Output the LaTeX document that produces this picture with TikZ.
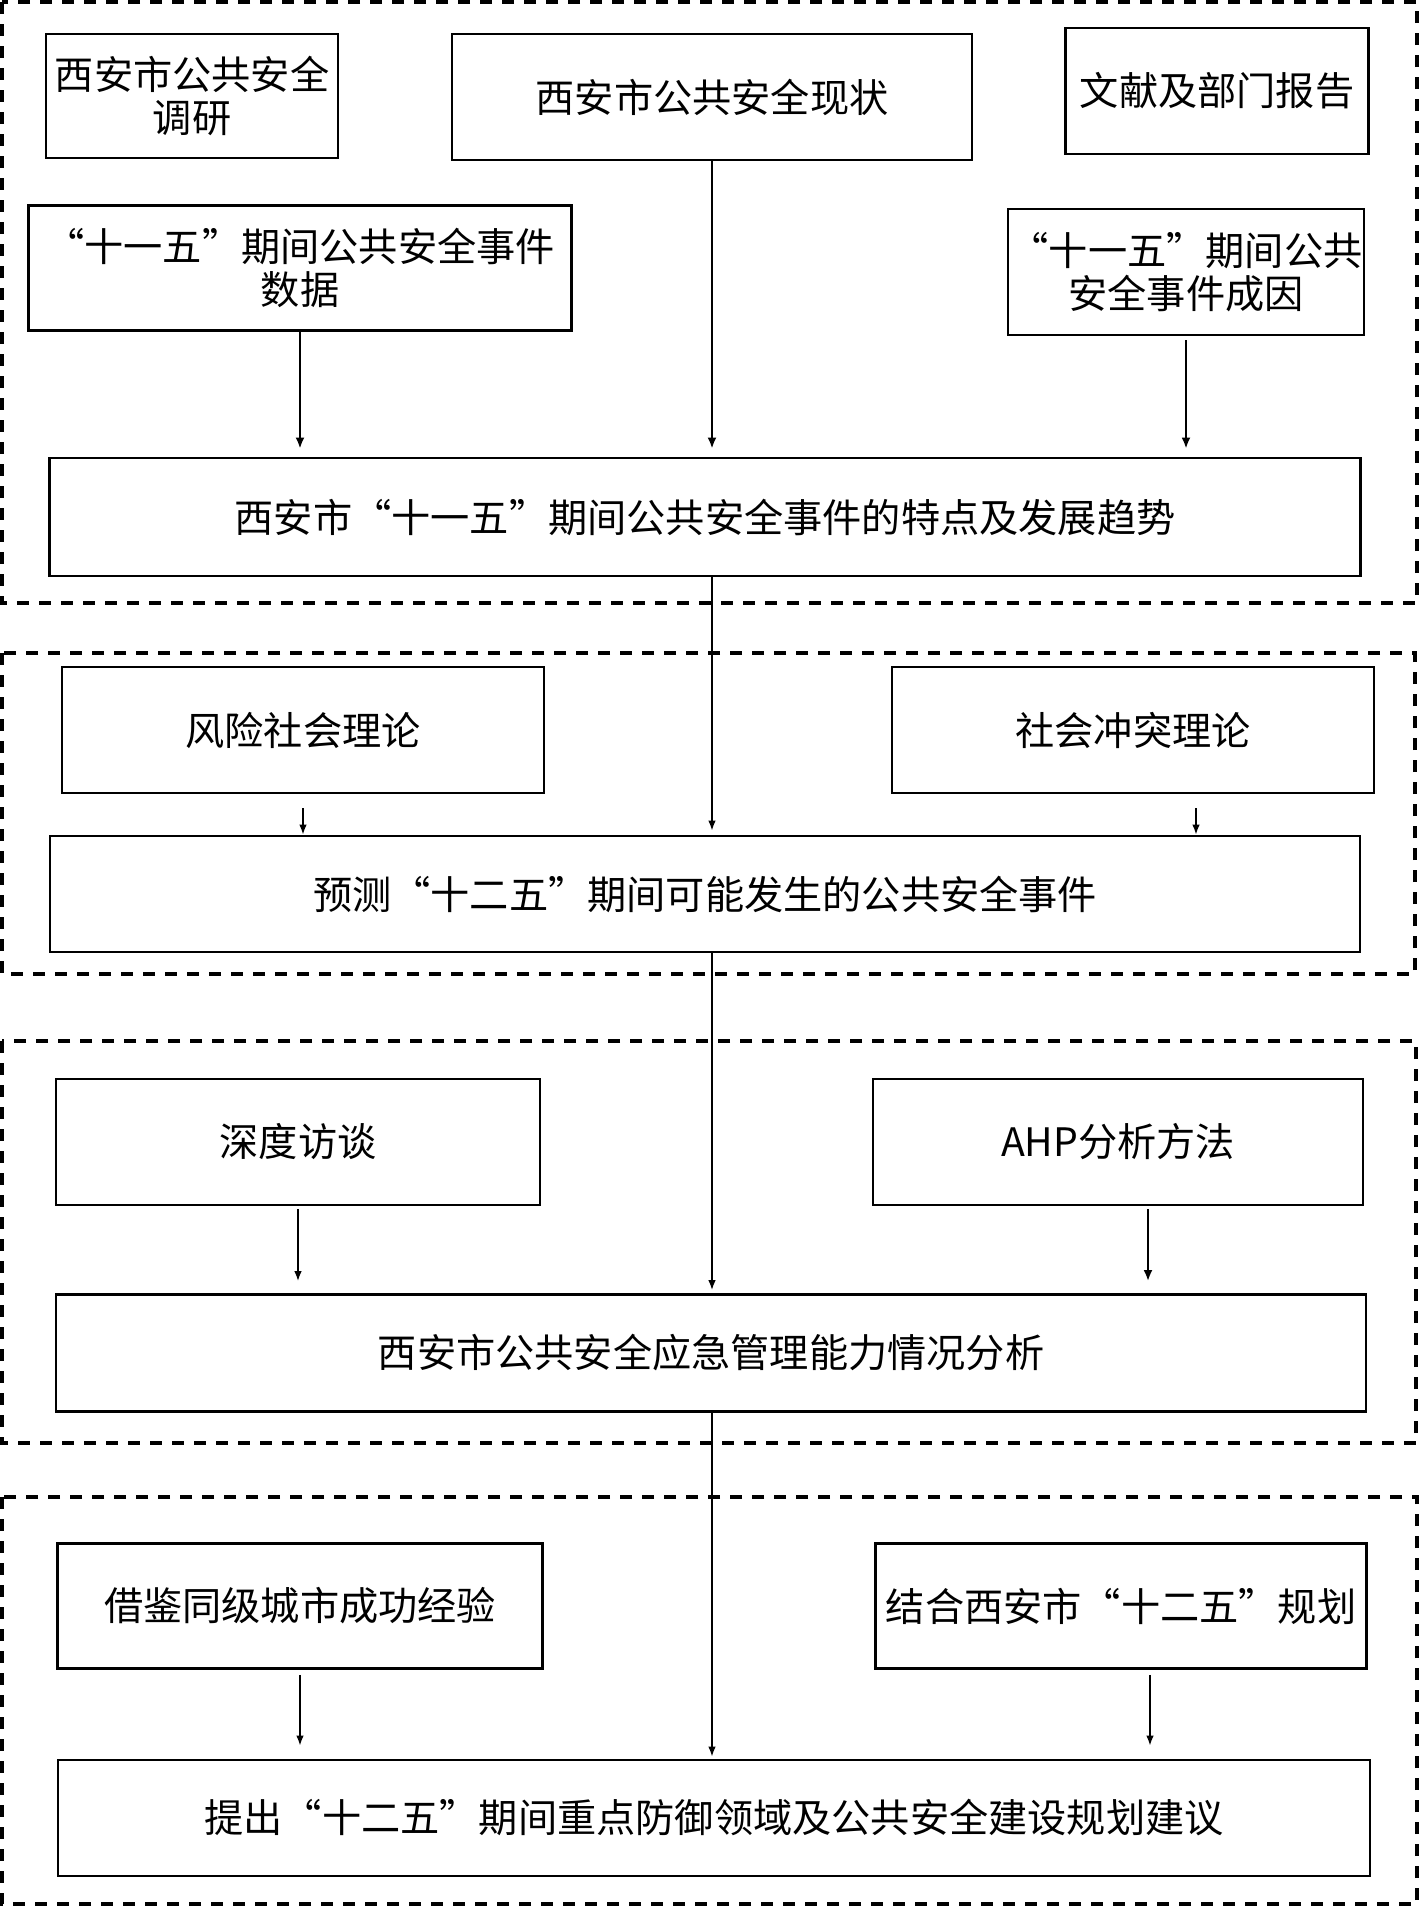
\documentclass[tikz,border=0pt]{standalone}
\usepackage{fontspec}
\usepackage{tikz}
\usetikzlibrary{arrows.meta}
\newfontfamily\cjk{Noto Sans CJK SC}
\tikzset{
  block/.style={rectangle,draw=black,line width=1.4pt,inner sep=0pt,align=center,
    font=\cjk\fontsize{19.6}{21.5}\selectfont},
  stage/.style={dash pattern=on 6pt off 5pt,line width=1.7pt},
  arrow/.style={-{Latex[length=5.5pt,width=4.5pt]},line width=1.1pt},
  thinarrow/.style={-{Latex[length=5pt,width=3.8pt]},line width=0.8pt}
}

\begin{document}
\begin{tikzpicture}[x=0.5pt,y=-0.5pt]
\useasboundingbox (0,0) rectangle (1420,1906);
% stage frames
\draw[stage] (2,2) rectangle (1417,603);
\draw[stage] (2,653) rectangle (1415,974);
\draw[stage] (2,1041) rectangle (1416,1443);
\draw[stage] (2,1497) rectangle (1417,1904);
% stage 1
\node[block,minimum width=146pt,minimum height=62pt] (survey) at (192,96) {西安市公共安全\\调研};
\node[block,minimum width=260pt,minimum height=63pt] (status) at (712,97) {西安市公共安全现状};
\node[block,minimum width=151.5pt,minimum height=63pt] (report) at (1217,91) {文献及部门报告};
\node[block,minimum width=271.5pt,minimum height=62.5pt] (data) at (300,268) {“十一五”期间公共安全事件\\数据};
\node[block,minimum width=178pt,minimum height=63pt] (cause) at (1186,272) {“十一五”期间公共\\安全事件成因};
\node[block,minimum width=655.5pt,minimum height=59pt] (trend) at (705,517) {西安市“十一五”期间公共安全事件的特点及发展趋势};
\draw[arrow,shorten >=4pt] (data.south) -- (data.south |- trend.north);
\draw[arrow,shorten >=4pt] (status.south) -- (status.south |- trend.north);
\draw[arrow,shorten <=2pt,shorten >=4pt] (cause.south) -- (cause.south |- trend.north);
% stage 2
\node[block,minimum width=241pt,minimum height=63pt] (risk) at (303,730) {风险社会理论};
\node[block,minimum width=241pt,minimum height=63pt] (conflict) at (1133,730) {社会冲突理论};
\node[block,minimum width=655pt,minimum height=58pt] (forecast) at (705,894) {预测“十二五”期间可能发生的公共安全事件};
\draw[thinarrow,shorten >=2pt] (trend.south -| status.south) -- (forecast.north -| status.south);
\draw[thinarrow,shorten <=7pt] (risk.south) -- (risk.south |- forecast.north);
\draw[thinarrow,shorten <=7pt] ([xshift=31.5pt]conflict.south) -- ([xshift=31.5pt]conflict.south |- forecast.north);
% stage 3
\node[block,minimum width=242pt,minimum height=63pt] (interview) at (298,1142) {深度访谈};
\node[block,minimum width=245pt,minimum height=63pt] (ahp) at (1118,1142) {AHP分析方法};
\node[block,minimum width=655pt,minimum height=58.5pt] (capacity) at (711,1353) {西安市公共安全应急管理能力情况分析};
\draw[thinarrow,shorten >=1.5pt] (forecast.south -| status.south) -- (capacity.north -| status.south);
\draw[thinarrow,shorten <=1.5pt,shorten >=6pt] (interview.south) -- (interview.south |- capacity.north);
\draw[arrow,shorten <=1.5pt,shorten >=6pt] ([xshift=15pt]ahp.south) -- ([xshift=15pt]ahp.south |- capacity.north);
% stage 4
\node[block,minimum width=242.5pt,minimum height=62.5pt] (experience) at (300,1606) {借鉴同级城市成功经验};
\node[block,minimum width=245.5pt,minimum height=62.5pt] (plan) at (1121,1606) {结合西安市“十二五”规划};
\node[block,minimum width=656pt,minimum height=58pt] (proposal) at (714,1818) {提出“十二五”期间重点防御领域及公共安全建设规划建议};
\draw[thinarrow,shorten >=1pt] (capacity.south -| status.south) -- (proposal.north -| status.south);
\draw[thinarrow,shorten <=2.5pt,shorten >=6.5pt] (experience.south) -- (experience.south |- proposal.north);
\draw[thinarrow,shorten <=2.5pt,shorten >=6.5pt] ([xshift=14.5pt]plan.south) -- ([xshift=14.5pt]plan.south |- proposal.north);
\end{tikzpicture}
\end{document}
